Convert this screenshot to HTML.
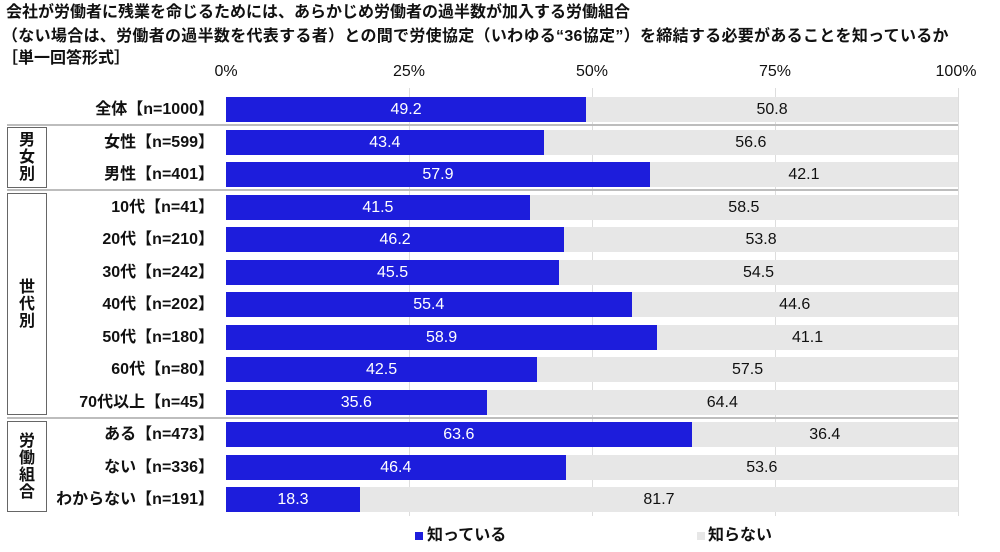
<!DOCTYPE html>
<html><head><meta charset="utf-8"><style>
body{margin:0;width:1000px;height:552px;background:#fff;position:relative;overflow:hidden;font-family:"Liberation Sans","Noto Sans CJK JP",sans-serif;font-weight:bold;color:#111}
div{position:absolute}
.t{left:6px;font-size:16px;white-space:nowrap;line-height:20px}
.ax{top:62px;font-size:16px;font-weight:normal;width:60px;text-align:center;line-height:20px}
.lab{right:786px;font-size:16px;white-space:nowrap;line-height:25px;text-align:right}
.b{height:25px;line-height:25px;font-size:16px;text-align:center;font-weight:normal}
.blue{background:#1d1ddc;color:#fff}
.gray{background:#e7e7e7;color:#111}
.sep{left:7px;width:951px;height:2px;background:#bdbdbd}
.box{left:7px;width:38px;border:1px solid #666;font-size:16px;text-align:center;line-height:17px;display:flex;flex-direction:column;justify-content:center;align-items:center}
.gl{width:1px;background:#ddd;top:88px;height:428px}
</style></head><body>
<div class="t" style="top:3px">会社が労働者に残業を命じるためには、あらかじめ労働者の過半数が加入する労働組合</div>
<div class="t" style="top:27px;left:2px;letter-spacing:0.3px">（ない場合は、労働者の過半数を代表する者）との間で労使協定（いわゆる“36協定”）を締結する必要があることを知っているか</div>
<div class="t" style="top:49px;left:2px">［単一回答形式］</div>
<div class="ax" style="left:196px">0%</div>
<div class="ax" style="left:379px">25%</div>
<div class="ax" style="left:562px">50%</div>
<div class="ax" style="left:745px">75%</div>
<div class="ax" style="left:926px">100%</div>
<div class="gl" style="left:409px"></div><div class="gl" style="left:592px"></div><div class="gl" style="left:775px"></div><div class="gl" style="left:958px"></div>
<div id="rows" style="left:0;top:0;width:1000px;height:552px"></div>
<div class="sep" style="top:124px"></div>
<div class="sep" style="top:189px"></div>
<div class="sep" style="top:417px"></div>
<div class="box" style="top:127px;height:59px">男<br>女<br>別</div>
<div class="box" style="top:193px;height:220px">世<br>代<br>別</div>
<div class="box" style="top:421px;height:89px">労<br>働<br>組<br>合</div>
<div style="left:415px;top:532px;width:8px;height:8px;background:#1d1ddc"></div>
<div style="left:427px;top:526px;font-size:16px;line-height:20px">知っている</div>
<div style="left:697px;top:532px;width:8px;height:8px;background:#e7e7e7"></div>
<div style="left:708px;top:526px;font-size:16px;line-height:20px">知らない</div>
<script>
var d=[["全体【n=1000】",49.2,50.8],["女性【n=599】",43.4,56.6],["男性【n=401】",57.9,42.1],["10代【n=41】",41.5,58.5],["20代【n=210】",46.2,53.8],["30代【n=242】",45.5,54.5],["40代【n=202】",55.4,44.6],["50代【n=180】",58.9,41.1],["60代【n=80】",42.5,57.5],["70代以上【n=45】",35.6,64.4],["ある【n=473】",63.6,36.4],["ない【n=336】",46.4,53.6],["わからない【n=191】",18.3,81.7]];
var h="";d.forEach(function(r,i){var y=97+i*32.5;var w=r[1]*7.32;
h+='<div class="lab" style="top:'+y+'px">'+r[0]+'</div>';
h+='<div class="b blue" style="top:'+y+'px;left:226px;width:'+w+'px">'+r[1].toFixed(1)+'</div>';
h+='<div class="b gray" style="top:'+y+'px;left:'+(226+w)+'px;width:'+(732-w)+'px">'+r[2].toFixed(1)+'</div>';});
document.getElementById("rows").innerHTML=h;
</script>
</body></html>
